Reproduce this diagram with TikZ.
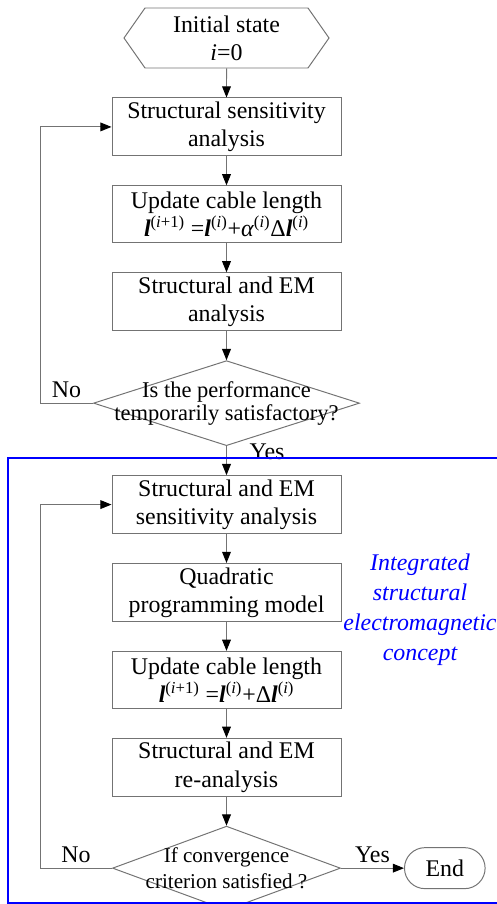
\documentclass[tikz,border=0pt]{standalone}
\usepackage{fontspec}
\setmainfont{Liberation Serif}
\usetikzlibrary{positioning,arrows.meta,shapes.geometric,shapes.misc,shapes.symbols}
\colorlet{linegray}{black!55}
\newcommand{\vl}{{\bfseries\itshape l}}
\newcommand{\pw}[1]{\textsuperscript{(#1)}}
\tikzset{
node distance=0.725cm,
>={Triangle[length=2.8mm,width=2.2mm,color=black]},
font=\fontsize{17pt}{20pt}\selectfont,
every edge/.style={draw=linegray,line width=0.7pt},
loopline/.style={draw=linegray,line width=0.7pt},
process/.style={draw=linegray,line width=0.7pt,rectangle,minimum width=5.725cm,minimum height=1.425cm,inner sep=1mm,align=center},
start/.style={draw=linegray,line width=0.7pt,signal,signal to=east and west,signal pointer angle=110,minimum width=5.125cm,minimum height=1.5cm,inner sep=0pt,align=center},
decision/.style={draw=linegray,line width=0.7pt,diamond,inner sep=0pt},
question/.style={align=center,font=\fontsize{16pt}{16.5pt}\selectfont},
terminal/.style={draw=linegray,line width=0.7pt,rounded rectangle,minimum width=2.25cm,minimum height=1.025cm},
concept/.style={blue,align=center,font=\fontsize{17pt}{21.3pt}\selectfont\itshape}
}
\begin{document}
\begin{tikzpicture}
\useasboundingbox (0,0) rectangle (12.425,-22.6);
\clip (0,0) rectangle (12.425,-22.6);

% first loop
\node[start]   (init) at (5.6625,-0.95) {Initial state\\\textit{i}=0};
\node[process] (ssa)  [below=of init]  {Structural sensitivity\\analysis};
\node[process] (upd1) [below=of ssa]   {Update cable length\\\vl\pw{\textit{i}+1} =\vl\pw{\textit{i}}+\textit{α}\pw{\textit{i}}Δ\vl\pw{\textit{i}}};
\node[process] (sem1) [below=of upd1]  {Structural and EM\\analysis};
\node[decision,minimum width=6.65cm,minimum height=2.125cm,
      label={[question]center:{Is the performance\\temporarily satisfactory?}}]
               (dec1) [below=of sem1]  {};

% second loop
\node[process] (sens) [below=of dec1]  {Structural and EM\\sensitivity analysis};
\node[process] (qp)   [below=of sens]  {Quadratic\\programming model};
\node[process] (upd2) [below=of qp]    {Update cable length\\\vl\pw{\textit{i}+1} =\vl\pw{\textit{i}}+Δ\vl\pw{\textit{i}}};
\node[process] (rean) [below=of upd2]  {Structural and EM\\re-analysis};
\node[decision,minimum width=5.7cm,minimum height=2.1cm,
      label={[question,font=\fontsize{15pt}{19pt}\selectfont]center:{If convergence\\criterion satisfied ?}}]
               (dec2) [below=of rean]  {};
\node[terminal] (stop) [right=1.575cm of dec2] {End};
\node[concept]  (isec) at (10.5,-15.25) {Integrated\\structural\\electromagnetic\\concept};
\coordinate (rail) at (1,0);

\path[->] (init) edge (ssa)
          (ssa)  edge (upd1)
          (upd1) edge (sem1)
          (sem1) edge (dec1)
          (dec1) edge node[right=0.45cm,pos=0.2] {Yes} (sens)
          (sens) edge (qp)
          (qp)   edge (upd2)
          (upd2) edge (rean)
          (rean) edge (dec2)
          (dec2) edge node[above] {Yes} (stop);
\draw[loopline,->] (dec1.west) -- node[above] {No} (dec1.west -| rail) |- (ssa);
\draw[loopline,->] (dec2.west) -- node[above] {No} (dec2.west -| rail) |- (sens);

% blue frame
\draw[blue,line width=1.4pt] (0.2,-11.45) rectangle (13.5,-22.58);
\end{tikzpicture}
\end{document}
